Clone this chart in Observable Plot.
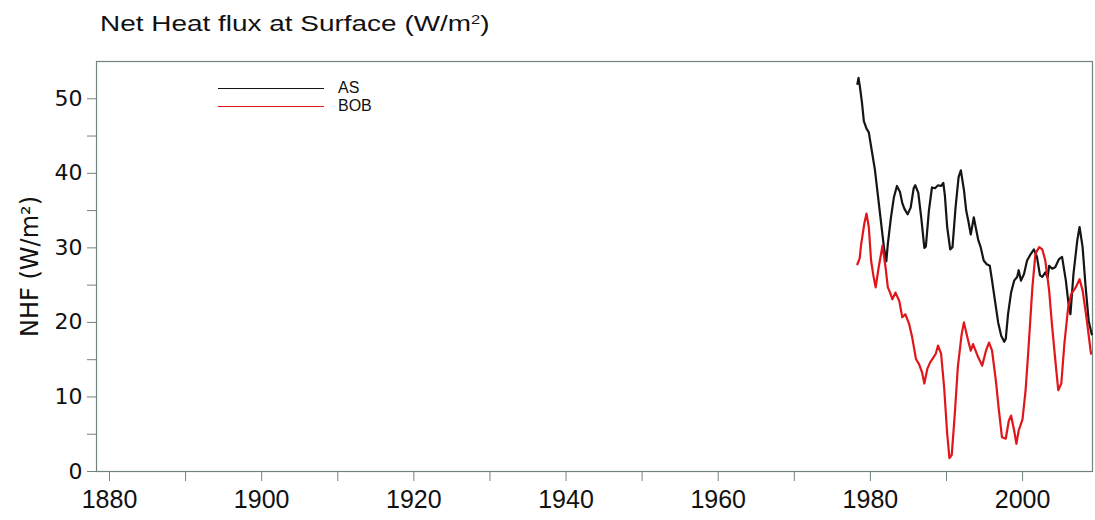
<!DOCTYPE html>
<html>
<head>
<meta charset="utf-8">
<script src="https://cdn.jsdelivr.net/npm/d3@7"></script>
<script src="https://cdn.jsdelivr.net/npm/@observablehq/plot@0.6"></script>
<style>
  body { margin: 0; background: #fff; font-family: "Liberation Sans", Arial, sans-serif; }
  #wrap { position: relative; width: 1095px; height: 520px; overflow: hidden; }
  #title { position: absolute; left: 100px; top: 13px; font-size: 22px; line-height: 22px;
           transform: scaleX(1.27); transform-origin: left top; white-space: nowrap; color: #111; }
  #chart { position: absolute; left: 0; top: 45px; }
  #legend { position: absolute; left: 218px; top: 79px; font-size: 16px; color: #111; }
  .item { display: flex; align-items: center; height: 18px; }
  .sw { width: 106px; height: 0; border-top: 1.5px solid; margin-right: 14px; }
</style>
</head>
<body>
<div id="wrap">
  <div id="title">Net Heat flux at Surface (W/m<sup style="font-size:13px;vertical-align:7px;line-height:0">2</sup>)</div>
  <div id="chart"></div>
  <div id="legend"></div>
</div>
<script>
// ---- data ----
const seriesNames = ["AS", "BOB"];
const seriesColors = ["#151515", "#e0161b"];

const asYears = [1980.0,1980.15,1980.35,1980.6,1980.85,1981.2,1981.5,1981.9,1982.3,1982.7,1983.1,1983.5,1983.8,1984.0,1984.4,1984.8,1985.2,1985.6,1985.9,1986.2,1986.6,1987.0,1987.4,1987.6,1988.0,1988.4,1988.8,1989.0,1989.4,1989.8,1990.2,1990.6,1991.0,1991.3,1991.5,1991.8,1992.2,1992.5,1992.9,1993.3,1993.6,1994.0,1994.3,1994.6,1994.9,1995.3,1995.6,1995.9,1996.2,1996.6,1997.0,1997.4,1997.7,1998.1,1998.5,1998.9,1999.3,1999.5,1999.8,2000.2,2000.6,2001.0,2001.2,2001.5,2001.9,2002.3,2002.8,2003.2,2003.6,2004.0,2004.3,2004.7,2005.0,2005.2,2005.6,2006.0,2006.5,2006.9,2007.4,2007.8,2008.0,2008.4,2008.9,2009.2,2009.6,2010.0,2010.4,2010.8];
const asValues = [52.0,52.8,51.5,49.5,47.0,46.0,45.5,43.0,40.5,37.0,33.5,30.0,28.2,30.5,34.0,36.8,38.3,37.5,36.0,35.2,34.5,35.4,38.0,38.4,37.4,34.0,30.0,30.2,35.0,38.1,38.0,38.4,38.3,38.7,37.0,32.8,29.8,30.1,35.4,39.5,40.4,37.8,35.0,33.5,31.8,34.1,32.5,31.0,30.1,28.3,27.8,27.6,25.6,22.8,20.0,18.2,17.4,17.8,21.1,24.0,25.6,26.1,27.0,25.6,26.5,28.3,29.2,29.8,28.8,26.3,26.1,26.7,26.0,27.6,27.2,27.4,28.5,28.8,25.6,22.0,21.1,26.5,31.0,32.8,30.1,24.7,20.2,18.4];

const bobYears = [1980.0,1980.3,1980.5,1980.9,1981.2,1981.5,1981.8,1982.1,1982.4,1982.8,1983.3,1983.7,1984.0,1984.3,1984.6,1985.0,1985.5,1985.9,1986.3,1986.8,1987.2,1987.7,1988.1,1988.5,1988.8,1989.2,1989.6,1990.0,1990.3,1990.6,1991.0,1991.4,1991.8,1992.1,1992.4,1992.8,1993.2,1993.7,1994.0,1994.5,1994.9,1995.2,1995.8,1996.4,1996.9,1997.3,1997.7,1998.2,1998.6,1999.0,1999.5,1999.9,2000.2,2000.6,2000.9,2001.2,2001.7,2002.1,2002.5,2003.0,2003.4,2003.9,2004.3,2004.7,2005.2,2005.6,2006.1,2006.4,2006.8,2007.2,2007.7,2008.1,2008.7,2009.2,2009.6,2010.1,2010.7];
const bobValues = [27.8,28.6,30.5,33.2,34.6,32.8,28.3,26.3,24.7,27.4,30.3,27.4,24.7,24.0,23.1,24.0,22.9,20.7,21.1,19.8,18.0,15.1,14.4,13.3,11.8,13.8,14.7,15.3,15.8,16.9,15.8,11.3,5.1,1.8,2.2,7.7,14.0,18.4,20.0,17.8,16.2,17.1,15.5,14.2,16.2,17.3,16.2,12.2,8.2,4.6,4.4,6.8,7.5,5.5,3.7,5.5,7.0,10.8,16.7,24.7,29.2,30.1,29.8,28.3,24.3,19.4,14.0,10.9,11.8,17.1,22.0,23.8,24.7,25.8,24.3,20.7,15.8];

const xTicks = [1880,1890,1900,1910,1920,1930,1940,1950,1960,1970,1980,1990,2000,2010];
const xLabeled = [1880,1900,1920,1940,1960,1980,2000];
const yTicks = [0,5,10,15,20,25,30,35,40,45,50];
const yLabeled = [0,10,20,30,40,50];

// ---- tables ----
const asRows = asYears.map((y, i) => ({year: y, value: asValues[i], series: "AS"}));
const bobRows = bobYears.map((y, i) => ({year: y, value: bobValues[i], series: "BOB"}));

const axisColor = "#74837f";

const chart = Plot.plot({
  width: 1095,
  height: 475,
  marginTop: 16,
  marginLeft: 96,
  marginRight: 3,
  marginBottom: 49,
  style: {background: "#fff", fontFamily: "'Liberation Sans', Arial, sans-serif", color: "#111"},
  x: {domain: [1880, 2010.9]},
  y: {domain: [0, 55]},
  marks: [
    Plot.frame({stroke: axisColor, strokeWidth: 1.2}),
    Plot.axisX({
      ticks: xTicks,
      tickFormat: d => xLabeled.includes(d) ? String(d) : "",
      tickSize: 10, tickPadding: 9, dx: 13,
      fontSize: 25, stroke: axisColor, fill: "#111", label: null
    }),
    Plot.axisY({
      ticks: yTicks,
      tickFormat: d => yLabeled.includes(d) ? String(d) : "",
      tickSize: 9, tickPadding: 5,
      fontSize: 22, fontFamily: "DejaVu Sans", stroke: axisColor, fill: "#111",
      label: null
    }),
    Plot.text(["NHF (W/m²)"], {
      frameAnchor: "left", rotate: -90, dx: -66,
      fontSize: 24, fontFamily: "DejaVu Sans", fill: "#111", textAnchor: "middle"
    }),
    Plot.line(asRows, {x: "year", y: "value", stroke: seriesColors[0], strokeWidth: 2.2}),
    Plot.line(bobRows, {x: "year", y: "value", stroke: seriesColors[1], strokeWidth: 2.2})
  ]
});
document.getElementById("chart").appendChild(chart);

// ---- legend ----
const legend = document.getElementById("legend");
seriesNames.forEach((name, i) => {
  const item = document.createElement("div");
  item.className = "item";
  const sw = document.createElement("span");
  sw.className = "sw";
  sw.style.borderColor = seriesColors[i];
  const label = document.createElement("span");
  label.textContent = name;
  item.appendChild(sw);
  item.appendChild(label);
  legend.appendChild(item);
});
</script>
</body>
</html>
